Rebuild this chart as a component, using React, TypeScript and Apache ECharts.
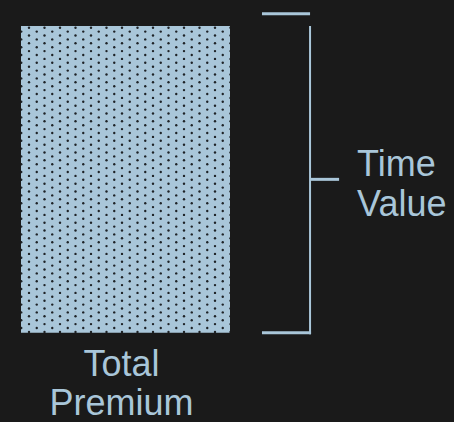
import React, { useEffect, useRef } from "react";
import * as echarts from "echarts";

// ---- data ----
const categories = ["Total Premium"];
const premiumValues = [100];
const timeValueRange = [0, 100]; // bracket span (low, high)
const timeValueMid = [50]; // bracket tick level
const timeValueCap = [104]; // upper cap line level
const bracketLabels = ["Time\nValue"];

const BG = "#1a1a1a";
const BLUE = "#a9c6d9";
const FONT = "'Liberation Sans', Arial, sans-serif";

function makeDotPattern() {
  const w = 31;
  const h = 39;
  const c = document.createElement("canvas");
  c.width = w;
  c.height = h;
  const ctx = c.getContext("2d")!;
  ctx.fillStyle = BLUE;
  ctx.fillRect(0, 0, w, h);
  ctx.fillStyle = "#1e2226";
  const dots: [number, number][] = [];
  for (let k = 0; k < 5; k++) {
    for (const x of [13.5, 29]) dots.push([x, 4.3 + 7.8 * k]);
    for (const x of [5.75, 21.25]) dots.push([x, 0.4 + 7.8 * k]);
  }
  for (const [x, y] of dots) {
    for (const dx of [-w, 0, w]) {
      for (const dy of [-h, 0, h]) {
        ctx.beginPath();
        ctx.arc(x + dx, y + dy, 1.2, 0, Math.PI * 2);
        ctx.fill();
      }
    }
  }
  return { image: c.toDataURL(), repeat: "repeat", imageWidth: w, imageHeight: h };
}

export default function App() {
  const ref = useRef<HTMLDivElement>(null);

  useEffect(() => {
    document.body.style.margin = "0";
    document.body.style.background = BG;
    if (!ref.current) return;
    const chart = echarts.init(ref.current, null, { renderer: "svg" });
    const pattern = makeDotPattern();

    const textStyle = (text: string, align: string, lineHeight: number) => ({
      text,
      fill: BLUE,
      fontSize: 36,
      fontFamily: FONT,
      lineHeight,
      align,
      verticalAlign: "middle",
    });

    const option: any = {
      animation: false,
      backgroundColor: BG,
      grid: { left: 21, top: 26, width: 418, height: 306.7 },
      xAxis: { type: "value", min: 0, max: 2, show: false },
      yAxis: { type: "value", min: 0, max: 100, show: false },
      series: [
        {
          type: "custom",
          coordinateSystem: "cartesian2d",
          clip: false,
          silent: true,
          data: premiumValues.map((v, i) => [i, v]),
          renderItem: (params: any, api: any) => {
            const i = api.value(0);
            const v = api.value(1);
            const p0 = api.coord([i, 0]);
            const p1 = api.coord([i + 1, v]);
            const lines = categories[i].split(" ");
            const children: any[] = [
              {
                type: "rect",
                shape: {
                  x: p0[0],
                  y: p1[1],
                  width: p1[0] - p0[0],
                  height: p0[1] - p1[1],
                },
                style: { fill: pattern },
              },
            ];
            lines.forEach((ln, k) => {
              const pos = api.coord([i + 0.481, -10.0 - 12.8 * k]);
              children.push({
                type: "text",
                x: pos[0],
                y: pos[1],
                style: textStyle(ln, "center", 30),
              });
            });
            return { type: "group", children };
          },
        },
        {
          type: "custom",
          coordinateSystem: "cartesian2d",
          clip: false,
          silent: true,
          data: [[timeValueRange[0], timeValueRange[1], timeValueMid[0], timeValueCap[0]]],
          renderItem: (params: any, api: any) => {
            const lo = api.value(0);
            const hi = api.value(1);
            const mid = api.value(2);
            const cap = api.value(3);
            const capX0 = 1.153;
            const stemX = 1.383;
            const tickX = 1.522;
            const a = api.coord([capX0, cap]);
            const b = api.coord([stemX, cap]);
            const s0 = api.coord([stemX, lo]);
            const s1 = api.coord([stemX, hi]);
            const bl = api.coord([capX0, lo]);
            const t0 = api.coord([stemX, mid]);
            const t1 = api.coord([tickX, mid]);
            const lab = api.coord([1.608, 48.5]);
            const hStyle = { stroke: BLUE, lineWidth: 3 };
            const vStyle = { stroke: BLUE, lineWidth: 2 };
            return {
              type: "group",
              children: [
                { type: "line", shape: { x1: a[0], y1: a[1], x2: b[0], y2: b[1] }, style: hStyle },
                { type: "line", shape: { x1: s0[0], y1: s0[1] + 1.5, x2: s1[0], y2: s1[1] }, style: vStyle },
                { type: "line", shape: { x1: bl[0], y1: bl[1], x2: s0[0] + 1, y2: s0[1] }, style: hStyle },
                { type: "line", shape: { x1: t0[0], y1: t0[1], x2: t1[0], y2: t1[1] }, style: hStyle },
                {
                  type: "text",
                  x: lab[0],
                  y: lab[1],
                  style: textStyle(bracketLabels[0], "left", 40),
                },
              ],
            };
          },
        },
      ],
    };
    chart.setOption(option);
    return () => chart.dispose();
  }, []);

  return (
    <div
      ref={ref}
      style={{ position: "fixed", left: 0, top: 0, width: 454, height: 422 }}
    />
  );
}
